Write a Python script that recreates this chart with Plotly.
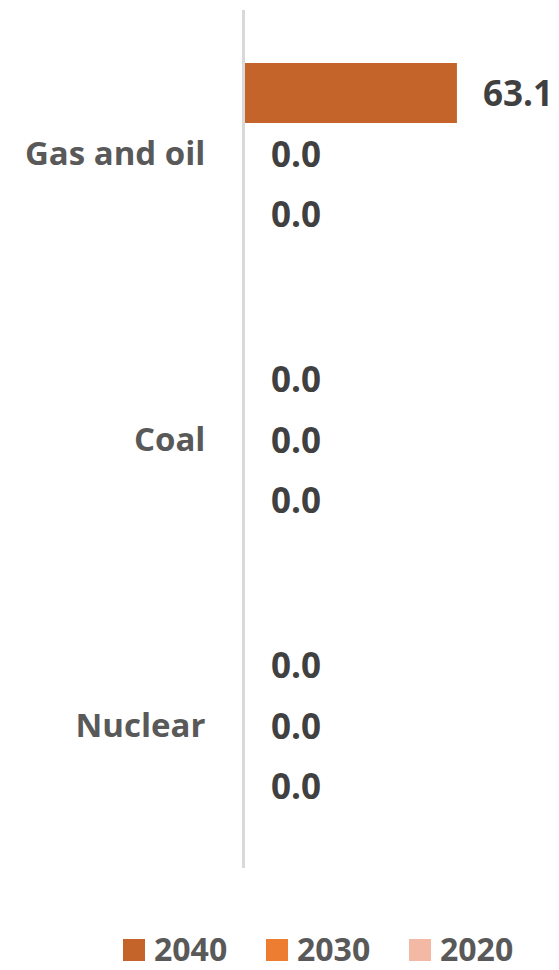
import plotly.graph_objects as go

categories = ["Gas and oil", "Coal", "Nuclear"]
series_names = ["2040", "2030", "2020"]
values_2040 = [63.1, 0.0, 0.0]
values_2030 = [0.0, 0.0, 0.0]
values_2020 = [0.0, 0.0, 0.0]
series_values = [values_2040, values_2030, values_2020]
colors = ["#C4642A", "#ED7D31", "#F4B9A5"]

W, H = 559, 970
M_L, M_R, M_T, M_B = 245, 4, 10, 102
BARGAP = 0.37
X_MAX = 92.3

plot_w = W - M_L - M_R
plot_h = H - M_T - M_B


def px_to_paper_x(px):
    return (px - M_L) / plot_w


def px_to_paper_y(py):
    return (H - M_B - py) / plot_h


label_font = dict(family="Open Sans", size=35, color="#404040")
cat_font = dict(family="Open Sans", size=33, color="#595959", weight="bold")
legend_font = dict(family="Open Sans", size=32, color="#595959")

fig = go.Figure()
for name, vals, col in zip(series_names, series_values, colors):
    fig.add_trace(go.Bar(
        name=name, y=categories, x=vals, orientation="h",
        marker=dict(color=col, line=dict(width=0)),
        showlegend=False,
    ))

# value labels beside each bar, shifted vertically to each bar's slot in the group
band = plot_h / len(categories)
slot = band * (1 - BARGAP) / len(series_names)
annotations = []
for i, vals in enumerate(series_values):
    shift = (1 - i) * slot
    for cat, v in zip(categories, vals):
        annotations.append(dict(
            x=v, y=cat, xref="x", yref="y", text=f"<b>{v:.1f}</b>",
            showarrow=False, xanchor="left", yanchor="middle",
            xshift=24, yshift=shift, font=label_font,
        ))

# legend row under the plot: square swatch followed by the series name
shapes = []
LEG_Y, SW, LEG_X0, LEG_STEP = 948, 22, 123, 143
for i, (name, col) in enumerate(zip(series_names, colors)):
    x0 = LEG_X0 + i * LEG_STEP
    shapes.append(dict(
        type="rect", xref="paper", yref="paper",
        x0=px_to_paper_x(x0), x1=px_to_paper_x(x0 + SW),
        y0=px_to_paper_y(LEG_Y + 2 + SW / 2), y1=px_to_paper_y(LEG_Y + 2 - SW / 2),
        fillcolor=col, line=dict(width=0),
    ))
    annotations.append(dict(
        x=px_to_paper_x(x0 + SW + 8), y=px_to_paper_y(LEG_Y),
        xref="paper", yref="paper", text=f"<b>{name}</b>",
        showarrow=False, xanchor="left", yanchor="middle", font=legend_font,
        borderpad=0,
    ))

fig.update_layout(
    width=W, height=H,
    margin=dict(l=M_L, r=M_R, t=M_T, b=M_B),
    paper_bgcolor="white", plot_bgcolor="white",
    barmode="group", bargap=BARGAP, bargroupgap=0,
    showlegend=False,
    annotations=annotations,
    shapes=shapes,
    xaxis=dict(range=[0, X_MAX], showgrid=False, zeroline=False,
               showticklabels=False, showline=False, fixedrange=True),
    yaxis=dict(autorange="reversed", showgrid=False, zeroline=False,
               showline=True, linecolor="#D9D9D9", linewidth=3,
               ticks="", ticklabelstandoff=30, tickfont=cat_font),
)

fig.write_html("out.html")
